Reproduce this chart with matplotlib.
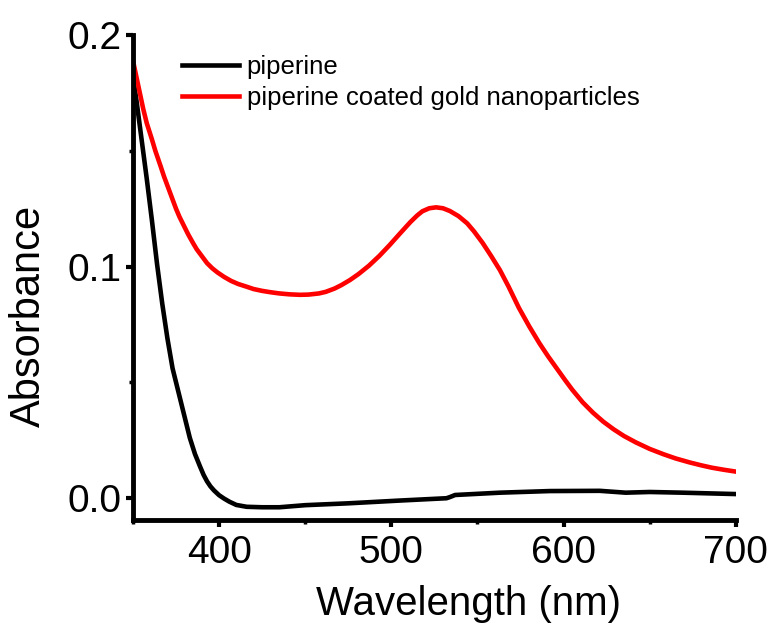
import matplotlib
matplotlib.use("Agg")
import matplotlib.pyplot as plt
from matplotlib.ticker import MultipleLocator

plt.rcParams["font.family"] = ["Liberation Sans", "DejaVu Sans"]

# piperine (black)
wl_pip = [350, 352, 355, 358, 361, 364, 367, 370, 373, 377, 380, 383, 386,
          389, 391, 393, 395, 397, 400, 403, 406, 410, 416, 425, 435, 450,
          475, 505, 532, 534, 537, 563, 592, 621, 636, 650, 669, 700]
abs_pip = [0.182, 0.172, 0.155, 0.138, 0.120, 0.101, 0.084, 0.069, 0.056,
           0.044, 0.035, 0.026, 0.019, 0.0135, 0.010, 0.0072, 0.0050, 0.0033,
           0.0012, -0.0003, -0.0016, -0.003, -0.0038, -0.0040, -0.0040,
           -0.0031, -0.0023, -0.0011, -0.0001, 0.0004, 0.0013, 0.0023, 0.0030,
           0.0031, 0.0023, 0.0026, 0.0023, 0.0017]

# piperine coated gold nanoparticles (red)
wl_aunp = [350, 352, 354, 356, 358, 361, 363, 366, 368, 371, 373, 375, 377,
           380, 382, 385, 387, 390, 393, 396, 399, 403, 407, 411, 416, 420,
           425, 430, 435, 441, 447, 452, 458, 462, 467, 471, 476, 481, 487,
           493, 499, 505, 511, 515, 518, 522, 526, 530, 534, 539, 544, 548,
           553, 558, 563, 568, 574, 580, 586, 591, 596, 601, 605, 611, 617,
           623, 629, 635, 642, 650, 658, 665, 673, 680, 686, 693, 700]
abs_aunp = [0.189, 0.182, 0.175, 0.168, 0.162, 0.155, 0.150, 0.1435, 0.139,
            0.133, 0.129, 0.125, 0.1215, 0.117, 0.114, 0.110, 0.1075, 0.1045,
            0.1015, 0.0993, 0.0975, 0.0955, 0.0938, 0.0925, 0.0913, 0.0903,
            0.0895, 0.0889, 0.0884, 0.0880, 0.0878, 0.0879, 0.0884, 0.0891,
            0.0905, 0.0920, 0.0942, 0.0968, 0.1004, 0.1046, 0.1093, 0.1143,
            0.1192, 0.1221, 0.1239, 0.1252, 0.1256, 0.1252, 0.1240, 0.1218,
            0.1187, 0.1152, 0.1102, 0.1045, 0.0985, 0.0914, 0.0822, 0.0742,
            0.0668, 0.0612, 0.0560, 0.0508, 0.0468, 0.0414, 0.0369, 0.0330,
            0.0297, 0.0268, 0.0240, 0.0212, 0.0189, 0.0171, 0.0154, 0.0141,
            0.0131, 0.0122, 0.0114]

labels = ["piperine", "piperine coated gold nanoparticles"]

fig = plt.figure(figsize=(7.73, 6.28), dpi=100)
ax = fig.add_axes([0.172, 0.172, 0.780, 0.772])

ax.plot(wl_pip, abs_pip, color="black", lw=3.3, label=labels[0])
ax.plot(wl_aunp, abs_aunp, color="#ff0000", lw=3.3, label=labels[1])

ax.set_xlim(350, 700)
ax.set_ylim(-0.0095, 0.2)

ax.xaxis.set_minor_locator(MultipleLocator(50))
ax.yaxis.set_minor_locator(MultipleLocator(0.05))
ax.set_xticks([400, 500, 600, 700])
ax.set_yticks([0.0, 0.1, 0.2])
ax.set_yticklabels(["0.0", "0.1", "0.2"])

for side in ["top", "right"]:
    ax.spines[side].set_visible(False)
for side in ["left", "bottom"]:
    ax.spines[side].set_linewidth(3.5)

ax.tick_params(which="major", direction="out", length=5, width=3, labelsize=28)
ax.tick_params(which="minor", direction="out", length=3, width=2.5)
ax.tick_params(axis="x", which="major", pad=6)
ax.tick_params(axis="y", which="major", pad=3)

ax.set_xlabel("Wavelength (nm)", fontsize=29)
ax.set_ylabel("Absorbance", fontsize=30)
ax.xaxis.set_label_coords(0.556, -0.135)
ax.yaxis.set_label_coords(-0.14, 0.42)

ax.legend(loc="upper left", bbox_to_anchor=(0.065, 0.98), frameon=False,
          fontsize=18.5, handlelength=2.2, handletextpad=0.3, labelspacing=0.27,
          borderaxespad=0.0)

fig.savefig("out.png", dpi=100)
